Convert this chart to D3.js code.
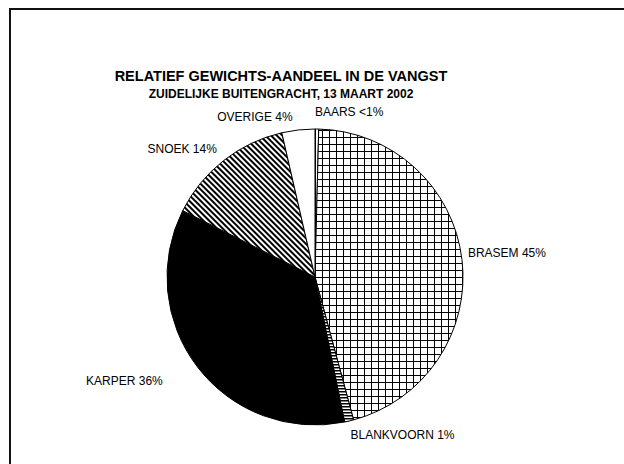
<!DOCTYPE html>
<html>
<head>
<meta charset="utf-8">
<script src="https://cdn.jsdelivr.net/npm/d3@7"></script>
<style>
  body { margin: 0; background: #fff; }
  text { font-family: "Liberation Sans", Arial, sans-serif; fill: #000; }
</style>
</head>
<body>
<div id="chart"></div>
<script>

// data (clockwise from 12 o'clock)
const species = ['BAARS', 'BRASEM', 'BLANKVOORN', 'KARPER', 'SNOEK', 'OVERIGE'];
const share = [0.4, 45.4, 1.0, 35.6, 14.0, 3.6];
const shareLabels = ['<1%', '45%', '1%', '36%', '14%', '4%'];

const title = 'RELATIEF GEWICHTS-AANDEEL IN DE VANGST';
const subtitle = 'ZUIDELIJKE BUITENGRACHT, 13 MAART 2002';

const width = 624, height = 464;
const cx = 315, cy = 277, r = 148;

const svg = d3.select('#chart').append('svg')
    .attr('width', width)
    .attr('height', height);

// fill patterns, one per slice
const defs = svg.append('defs');

const grid = defs.append('pattern')
    .attr('id', 'p-grid')
    .attr('patternUnits', 'userSpaceOnUse')
    .attr('width', 7).attr('height', 7);
grid.append('rect').attr('width', 7).attr('height', 7).attr('fill', '#fff');
grid.append('path').attr('d', 'M0.5,0V7M0,0.5H7')
    .attr('stroke', '#000').attr('stroke-width', 1);

const diag = defs.append('pattern')
    .attr('id', 'p-diag')
    .attr('patternUnits', 'userSpaceOnUse')
    .attr('width', 4).attr('height', 4)
    .attr('patternTransform', 'rotate(-45)');
diag.append('rect').attr('width', 4).attr('height', 4).attr('fill', '#fff');
diag.append('rect').attr('width', 2).attr('height', 4).attr('fill', '#000');

const horiz = defs.append('pattern')
    .attr('id', 'p-horiz')
    .attr('patternUnits', 'userSpaceOnUse')
    .attr('width', 4).attr('height', 3);
horiz.append('rect').attr('width', 4).attr('height', 3).attr('fill', '#fff');
horiz.append('rect').attr('width', 4).attr('height', 1.5).attr('fill', '#000');

const vert = defs.append('pattern')
    .attr('id', 'p-vert')
    .attr('patternUnits', 'userSpaceOnUse')
    .attr('width', 3).attr('height', 4);
vert.append('rect').attr('width', 3).attr('height', 4).attr('fill', '#fff');
vert.append('rect').attr('width', 1).attr('height', 4).attr('fill', '#000');

const fills = d3.scaleOrdinal()
    .domain(species)
    .range(['url(#p-vert)', 'url(#p-grid)', 'url(#p-horiz)', '#000', 'url(#p-diag)', '#fff']);

// outer frame (runs off the right and bottom edge)
svg.append('rect')
    .attr('x', 10).attr('y', 9)
    .attr('width', 700).attr('height', 600)
    .attr('fill', 'none')
    .attr('stroke', '#111')
    .attr('stroke-width', 2);

svg.append('text')
    .attr('x', 281).attr('y', 81)
    .attr('text-anchor', 'middle')
    .style('font-size', '14.5px')
    .style('font-weight', 'bold')
    .text(title);

svg.append('text')
    .attr('x', 281).attr('y', 98)
    .attr('text-anchor', 'middle')
    .style('font-size', '12px')
    .style('font-weight', 'bold')
    .text(subtitle);

const pie = d3.pie().sort(null).value(d => d.v);
const arcs = pie(species.map((s, i) => ({name: s, v: share[i], lab: shareLabels[i]})));

const arc = d3.arc().innerRadius(0).outerRadius(r);

const g = svg.append('g')
    .attr('transform', `translate(${cx},${cy})`);

g.selectAll('path')
    .data(arcs)
    .enter()
    .append('path')
      .attr('d', arc)
      .attr('fill', d => fills(d.data.name))
      .attr('stroke', '#000')
      .attr('stroke-width', 1);

// labels: box corner sits on the mid-angle ray just outside the rim,
// a few of them were pushed around by hand in the original
const labR = r + 6;
const nudge = {OVERIGE: [-5, 0], BAARS: [-2, -4], SNOEK: [-3, 0], KARPER: [-30, 4], BRASEM: [0, 1], BLANKVOORN: [0, 2]};
g.selectAll('text.lab')
    .data(arcs)
    .enter()
    .append('text')
      .attr('class', 'lab')
      .each(function(d) {
        const a = (d.startAngle + d.endAngle) / 2;
        const px = Math.sin(a) * labR, py = -Math.cos(a) * labR;
        const up = Math.cos(a) > 0;
        const n = nudge[d.data.name] || [0, 0];
        d3.select(this)
          .attr('x', px + n[0])
          .attr('y', (up ? py - 3 : py + 10) + n[1])
          .attr('text-anchor', Math.sin(a) < -0.01 ? 'end' : 'start');
      })
      .style('font-size', '12px')
      .text(d => d.data.name + ' ' + d.data.lab);

</script>
</body>
</html>
